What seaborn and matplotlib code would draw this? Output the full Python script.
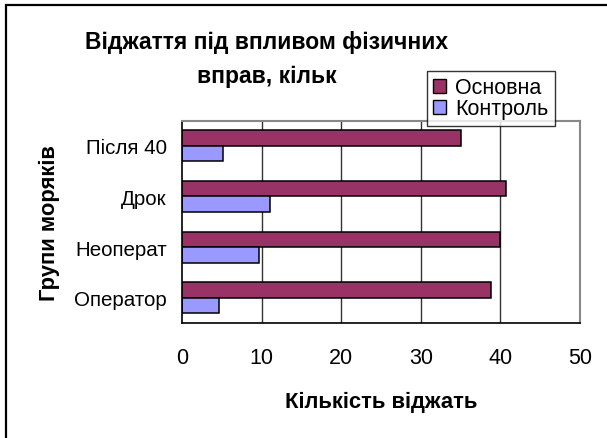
import matplotlib
matplotlib.use("Agg")
import matplotlib.pyplot as plt
import matplotlib.patches as mpatches
import numpy as np
import pandas as pd
import seaborn as sns

categories = ["Після 40", "Дрок", "Неоперат", "Оператор"]
series_names = ["Основна", "Контроль"]
osnovna = [35.0, 40.7, 39.9, 38.8]
kontrol = [5.2, 11.1, 9.7, 4.7]
x_ticks = [0, 10, 20, 30, 40, 50]
colors = ["#993366", "#9999FF"]

title_line1 = "Віджаття під впливом фізичних"
title_line2 = "вправ, кільк"
x_title = "Кількість віджать"
y_title = "Групи моряків"

df = pd.DataFrame({
    "group": categories * 2,
    "series": [series_names[0]] * len(categories) + [series_names[1]] * len(categories),
    "value": osnovna + kontrol,
})

sns.set_theme(style="white")
plt.rcParams["font.family"] = ["Liberation Sans", "DejaVu Sans"]
plt.rcParams["text.color"] = "black"
plt.rcParams["axes.labelcolor"] = "black"
plt.rcParams["xtick.color"] = "black"
plt.rcParams["ytick.color"] = "black"

W, H = 607, 439
fig = plt.figure(figsize=(W / 100, H / 100), dpi=100)
fig.patch.set_facecolor("white")
ax = fig.add_axes([182 / W, 1 - 324 / H, (580 - 182) / W, (324 - 121.5) / H])

sns.barplot(data=df, y="group", x="value", hue="series", order=categories,
            hue_order=series_names, palette=colors, orient="h", width=0.61,
            edgecolor="black", linewidth=1.1, saturation=1, ax=ax, legend=False)

ax.set_xlim(0, 50)
ax.set_ylim(3.5, -0.5)
ax.set_xticks(x_ticks)
ax.set_xticklabels([str(t) for t in x_ticks], fontsize=15.5)
ax.set_yticks(range(len(categories)))
ax.set_yticklabels(categories, fontsize=14.8)
ax.set_yticks(np.arange(-0.5, len(categories), 1.0), minor=True)
ax.tick_params(axis="y", which="major", length=0, pad=11)
ax.tick_params(axis="y", which="minor", length=7, width=1, color="black", direction="out")
ax.tick_params(axis="x", which="major", length=7, width=1, color="black", direction="out", pad=10)
ax.set_xlabel(x_title, fontsize=15.8, fontweight="bold", labelpad=17)
ax.set_ylabel(y_title, fontsize=15.8, fontweight="bold", labelpad=10)

for x in x_ticks[1:-1]:
    ax.axvline(x, color="#333333", lw=1, zorder=0)
ax.set_axisbelow(True)
for s in ["left", "bottom"]:
    ax.spines[s].set_color("black")
    ax.spines[s].set_linewidth(1.2)
for s in ["top", "right"]:
    ax.spines[s].set_color("#888888")
    ax.spines[s].set_linewidth(1.5)

fig.text(267 / W, 1 - 49 / H, title_line1, ha="center", va="baseline",
         fontsize=16.5, fontweight="bold")
fig.text(267 / W, 1 - 83 / H, title_line2, ha="center", va="baseline",
         fontsize=16.5, fontweight="bold")

handles = [mpatches.Patch(facecolor=c, edgecolor="black", linewidth=1, label=n)
           for c, n in zip(colors, series_names)]
leg = fig.legend(handles=handles, loc="upper left",
                 bbox_to_anchor=(427 / W, 1 - 72 / H), fontsize=15.5,
                 frameon=True, fancybox=False, shadow=False,
                 handlelength=0.6, handleheight=0.6, handletextpad=0.4,
                 borderpad=0.3, labelspacing=0.0, borderaxespad=0)
leg.get_frame().set_edgecolor("black")
leg.get_frame().set_linewidth(1)

border = mpatches.Rectangle((5.5 / W, -0.1), 1.2, 1 - 5.5 / H + 0.1,
                            transform=fig.transFigure, fill=False,
                            edgecolor="black", linewidth=1.6)
fig.add_artist(border)

fig.savefig("out.png", dpi=100, facecolor="white")
